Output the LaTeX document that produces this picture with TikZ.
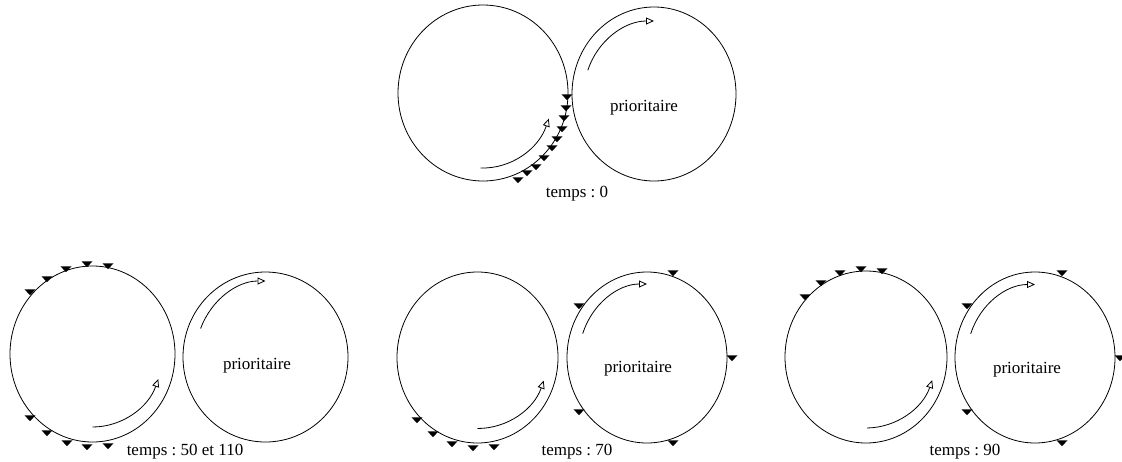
\documentclass[tikz,border=0pt]{standalone}
\usepackage{fontspec}
\setmainfont{Liberation Serif}
\usetikzlibrary{shapes.geometric,arrows.meta,calc}
\frenchspacing
\begin{document}
\begin{tikzpicture}[x=1pt,y=-1pt,
  ring/.style 2 args={draw,ellipse,inner sep=0pt,outer sep=0pt,minimum width=#1,minimum height=#2,line width=0.8pt},
  flow/.style={line width=0.8pt,-{Triangle[open,length=8pt,width=7pt]}},
  lbl/.style={anchor=base,inner sep=0pt,font=\fontsize{17}{20}\selectfont},
  pkt/.pic={\fill (-5.5,-2.7) -- (5.5,-2.7) -- (0,3.2) -- cycle;}]
\useasboundingbox (0,0) rectangle (1122,461);

% ---- top: temps 0
\node[ring={170}{176}] (L0) at (483,93) {};
\node[ring={164}{174}] (R0) at (654,94) {};
\draw[flow] ($(L0)+(92:70 and 75)$) arc[start angle=92,end angle=20,x radius=70,y radius=75];
\draw[flow] ($(R0)+(199:70 and 73)$) arc[start angle=199,end angle=270,x radius=70,y radius=73];
\node[lbl] (p0) at (644,111) {prioritaire};
\node[lbl] (t0) at (577,197) {temps : 0};
\foreach \p in {(567,97),(566,108),(564,118),(562,129),(557,139),(552,148),(544,158),(536,167),(527,173),(518,180)}
  \pic at \p {pkt};

% ---- bottom left: temps 50 et 110
\node[ring={165}{176}] (L1) at (92.5,354) {};
\node[ring={165}{170}] (R1) at (265.5,357) {};
\draw[flow] ($(L1)+(90:70 and 73)$) arc[start angle=90,end angle=20,x radius=70,y radius=73];
\draw[flow] ($(R1)+(202:70 and 76)$) arc[start angle=202,end angle=270,x radius=70,y radius=76];
\node[lbl] (p1) at (257,369) {prioritaire};
\node[lbl] (t1) at (185,455) {temps : 50 et 110};
\foreach \p in {(30,292),(47,279),(66,269),(87,264),(108,266),(30,418),(47,433),(67,443),(87,447),(108,446)}
  \pic at \p {pkt};

% ---- bottom middle: temps 70
\node[ring={161}{171}] (L2) at (477.5,357.5) {};
\node[ring={160}{171}] (R2) at (647,357.5) {};
\draw[flow] ($(L2)+(90:70 and 71)$) arc[start angle=90,end angle=19,x radius=70,y radius=71];
\draw[flow] ($(R2)+(199:68 and 73.5)$) arc[start angle=199,end angle=270,x radius=68,y radius=73.5];
\node[lbl] (p2) at (638,372) {prioritaire};
\node[lbl] (t2) at (577,455) {temps : 70};
\foreach \p in {(417,420),(433,434),(452,444),(473,448),(494,447),(673,273),(579,306),(732,358),(579,412),(673,443)}
  \pic at \p {pkt};

% ---- bottom right: temps 90
\node[ring={162}{172}] (L3) at (866,357) {};
\node[ring={160}{171}] (R3) at (1035,357.5) {};
\draw[flow] ($(L3)+(89:70 and 71)$) arc[start angle=89,end angle=19,x radius=70,y radius=71];
\draw[flow] ($(R3)+(199:68 and 73)$) arc[start angle=199,end angle=270,x radius=68,y radius=73];
\node[lbl] (p3) at (1027,373) {prioritaire};
\node[lbl] (t3) at (965,455) {temps : 90};
\foreach \p in {(805,297),(821,283),(840,273),(861,269),(882,271),(1062,273),(967,306),(1120,358),(967,412),(1062,443)}
  \pic at \p {pkt};
\end{tikzpicture}
\end{document}
